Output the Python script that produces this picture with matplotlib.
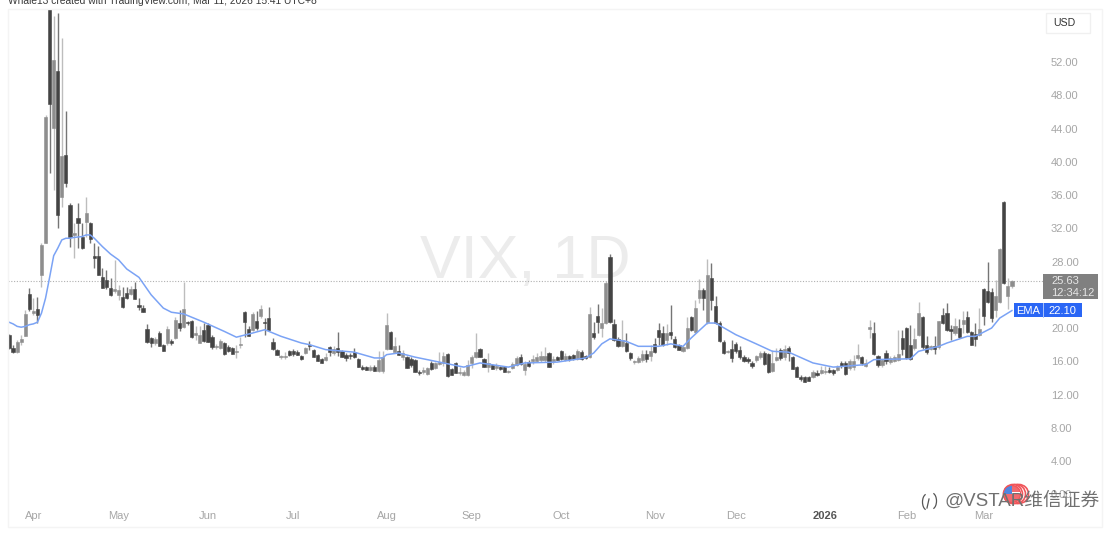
import matplotlib

matplotlib.use("Agg")
import matplotlib.pyplot as plt
from matplotlib.patches import Arc, Circle, Rectangle, Wedge

opens = [
    19.2, 17.6, 17.1, 18.3, 19.0, 24.1, 21.8, 22.3, 26.4, 30.2,
    58.5, 44.1, 50.9, 35.8, 40.8, 34.8, 31.2, 33.2, 31.0, 32.8,
    32.6, 28.7, 28.7, 26.1, 25.8, 24.8, 24.4, 24.0, 23.7, 24.2,
    24.1, 24.7, 22.8, 22.4, 19.9, 18.8, 18.2, 19.4, 18.0, 18.2,
    18.4, 18.8, 20.6, 20.1, 20.7, 20.8, 19.2, 18.2, 19.8, 20.4,
    18.9, 17.7, 17.6, 18.2, 17.7, 17.6, 17.1, 18.0, 21.9, 19.9,
    19.8, 20.8, 21.4, 20.7, 21.2, 18.3, 17.4, 16.5, 16.5, 17.2,
    17.2, 17.1, 16.6, 17.0, 17.9, 17.4, 16.8, 16.3, 16.2, 17.7,
    17.0, 17.6, 17.2, 16.8, 16.8, 17.1, 16.3, 15.3, 15.3, 14.9,
    15.3, 14.8, 14.8, 17.5, 19.5, 17.1, 17.2, 16.5, 16.5, 16.3,
    16.2, 14.7, 14.7, 14.5, 15.8, 15.2, 15.7, 15.8, 16.9, 15.1,
    15.8, 14.6, 14.3, 14.4, 15.8, 16.5, 17.5, 16.3, 15.3, 15.6,
    15.2, 15.3, 15.3, 14.7, 15.2, 15.6, 16.5, 14.9, 15.9, 16.0,
    16.0, 16.2, 16.2, 17.0, 16.0, 16.5, 17.2, 16.2, 16.6, 16.7,
    16.3, 17.1, 16.6, 16.5, 19.4, 21.4, 20.0, 20.6, 28.5, 20.5,
    18.7, 17.8, 18.2, 17.0, 15.9, 15.9, 16.2, 16.9, 16.6, 18.1,
    19.8, 19.4, 18.6, 19.5, 18.7, 18.0, 17.2, 17.6, 21.3, 19.5,
    23.6, 24.6, 20.7, 26.0, 22.7, 20.6, 18.3, 17.1, 17.5, 18.1,
    17.4, 16.5, 16.3, 15.8, 16.2, 16.5, 17.0, 16.9, 14.8, 16.2,
    17.3, 16.5, 17.6, 16.5, 15.3, 14.1, 14.1, 14.1, 14.1, 14.6,
    14.6, 14.7, 15.0, 14.9, 14.9, 15.8, 15.8, 15.2, 15.3, 16.4,
    16.5, 15.4, 19.9, 19.4, 16.6, 15.5, 17.0, 15.9, 16.0, 16.2,
    18.8, 20.0, 18.0, 17.6, 19.2, 21.3, 18.0, 17.5, 17.8, 17.7,
    21.6, 21.8, 19.9, 19.4, 20.0, 20.5, 21.3, 19.5, 19.3, 19.2,
    24.7, 24.5, 24.3, 22.2, 23.1, 35.2, 23.8, 25.0,
]
highs = [
    19.3, 17.9, 18.6, 19.2, 22.2, 24.8, 23.6, 23.7, 30.2, 45.6,
    60.0, 57.5, 57.9, 54.9, 46.1, 35.0, 32.6, 35.0, 32.6, 35.8,
    32.7, 30.2, 29.9, 27.2, 27.0, 26.0, 28.2, 25.2, 24.9, 24.9,
    25.0, 25.5, 23.6, 22.8, 20.5, 18.9, 18.9, 19.6, 18.1, 20.3,
    18.7, 21.3, 22.2, 25.5, 20.8, 21.0, 20.2, 20.2, 20.6, 20.6,
    19.2, 18.1, 18.7, 18.3, 17.9, 17.7, 18.0, 18.9, 22.0, 20.2,
    21.9, 22.0, 22.8, 21.2, 22.5, 18.8, 17.5, 16.8, 17.1, 17.4,
    17.5, 17.3, 16.8, 17.7, 18.4, 17.5, 16.9, 16.4, 17.0, 17.8,
    17.8, 19.5, 17.3, 17.0, 17.0, 17.6, 16.4, 15.5, 15.4, 15.5,
    15.5, 17.2, 17.2, 21.8, 19.6, 18.9, 17.9, 17.4, 16.6, 16.5,
    16.3, 14.9, 15.3, 15.3, 16.0, 15.9, 17.1, 17.1, 17.0, 15.2,
    15.9, 15.3, 14.9, 16.2, 16.8, 19.4, 17.6, 16.4, 17.0, 15.7,
    15.8, 15.4, 15.4, 15.0, 15.9, 16.6, 16.9, 16.0, 16.2, 16.7,
    17.0, 17.2, 17.7, 17.1, 16.6, 16.6, 17.3, 17.0, 16.8, 16.9,
    17.5, 17.3, 16.7, 22.5, 20.7, 22.9, 22.4, 25.6, 28.9, 21.1,
    18.9, 21.0, 19.4, 17.1, 16.2, 16.6, 17.4, 17.4, 18.0, 18.8,
    20.6, 20.2, 20.5, 22.8, 19.0, 18.1, 17.8, 21.3, 21.4, 23.4,
    25.9, 24.8, 28.3, 27.8, 23.8, 20.8, 18.6, 17.4, 18.6, 18.3,
    17.8, 16.7, 16.5, 16.0, 16.8, 17.2, 17.2, 17.0, 17.3, 17.6,
    17.6, 18.0, 17.8, 16.6, 15.4, 14.3, 14.2, 14.2, 15.0, 14.9,
    15.4, 15.4, 15.3, 15.1, 15.5, 16.0, 16.0, 16.3, 16.8, 18.1,
    16.6, 16.3, 21.0, 20.7, 16.7, 16.3, 17.4, 16.6, 16.7, 19.8,
    19.8, 20.1, 20.4, 20.0, 23.1, 21.4, 19.0, 18.0, 19.0, 20.9,
    22.4, 23.0, 20.4, 21.2, 21.1, 22.0, 22.1, 19.7, 20.6, 22.4,
    24.8, 28.0, 24.8, 25.8, 29.6, 35.3, 26.0, 25.8,
]
lows = [
    17.5, 17.0, 17.0, 18.0, 19.0, 22.0, 21.6, 20.6, 24.9, 30.2,
    38.6, 36.6, 32.0, 34.6, 37.0, 29.7, 28.4, 29.6, 29.5, 31.0,
    30.2, 27.2, 26.4, 24.8, 24.7, 23.8, 24.2, 23.4, 22.4, 23.5,
    24.0, 23.5, 22.2, 21.9, 18.2, 17.7, 18.0, 17.8, 17.2, 18.0,
    17.9, 18.7, 19.7, 20.0, 20.4, 18.8, 18.6, 18.2, 18.3, 18.3,
    17.5, 17.5, 17.5, 16.8, 17.1, 16.9, 16.4, 17.6, 18.9, 19.0,
    19.6, 19.8, 21.2, 19.2, 19.8, 17.4, 16.7, 16.3, 16.3, 16.6,
    16.6, 16.7, 16.2, 16.9, 17.3, 16.5, 16.0, 15.8, 16.0, 16.6,
    16.8, 16.6, 16.5, 16.0, 16.3, 16.4, 15.3, 14.9, 14.9, 14.8,
    14.8, 14.7, 14.6, 17.4, 17.5, 17.0, 16.7, 16.2, 15.2, 15.3,
    14.7, 14.4, 14.5, 14.4, 15.0, 15.1, 15.6, 15.4, 14.1, 14.3,
    14.6, 14.3, 14.2, 14.2, 15.2, 16.4, 16.5, 15.3, 14.7, 15.1,
    15.0, 15.0, 14.7, 14.6, 15.1, 15.4, 15.6, 14.3, 15.3, 15.7,
    15.9, 15.9, 15.9, 15.3, 15.7, 16.2, 16.1, 16.0, 16.0, 16.1,
    16.1, 16.2, 16.3, 16.4, 18.7, 19.4, 18.9, 20.5, 20.6, 18.4,
    17.7, 17.7, 17.1, 16.1, 15.7, 15.8, 15.9, 15.9, 16.0, 17.0,
    17.9, 17.8, 18.0, 18.7, 17.6, 17.4, 17.1, 17.5, 19.6, 19.4,
    23.0, 22.2, 20.5, 22.2, 20.5, 18.3, 16.9, 17.0, 15.9, 17.0,
    16.3, 15.9, 15.8, 15.2, 15.9, 16.3, 15.6, 14.6, 14.7, 16.0,
    16.2, 16.2, 16.0, 15.1, 14.1, 13.6, 13.5, 13.6, 14.0, 14.2,
    14.5, 14.5, 14.6, 14.4, 14.8, 15.2, 14.4, 15.0, 14.9, 16.2,
    15.6, 15.3, 18.8, 16.8, 15.3, 15.3, 15.7, 15.7, 15.9, 16.0,
    16.8, 16.3, 16.2, 17.4, 19.1, 17.5, 16.9, 17.4, 16.9, 17.5,
    20.5, 19.7, 18.6, 19.2, 18.8, 19.4, 19.4, 17.9, 17.8, 19.1,
    20.4, 23.0, 20.7, 21.3, 23.0, 25.3, 22.3, 24.8,
]
closes = [
    17.6, 17.1, 18.3, 18.7, 21.7, 22.3, 22.0, 21.6, 30.0, 45.4,
    47.0, 52.3, 33.6, 40.7, 37.5, 31.0, 31.4, 32.6, 29.6, 33.8,
    30.7, 28.4, 26.4, 24.8, 24.9, 24.0, 24.7, 24.6, 22.5, 23.6,
    24.7, 23.5, 22.5, 21.9, 18.3, 18.2, 18.7, 17.8, 17.2, 19.9,
    18.2, 21.0, 20.0, 22.3, 20.6, 18.9, 19.4, 19.2, 18.4, 18.3,
    17.7, 17.8, 18.4, 16.9, 17.2, 16.9, 17.2, 18.1, 20.7, 19.0,
    21.7, 20.0, 22.3, 20.6, 19.8, 17.5, 16.8, 16.6, 16.6, 16.8,
    16.9, 16.8, 16.3, 17.6, 17.8, 16.5, 16.0, 15.8, 16.5, 17.1,
    17.5, 17.1, 16.5, 16.4, 16.6, 16.5, 15.3, 15.1, 14.9, 15.3,
    14.8, 16.2, 16.5, 20.4, 17.5, 17.8, 16.8, 17.0, 15.2, 15.5,
    14.7, 14.6, 14.9, 15.2, 15.1, 15.8, 15.9, 16.6, 14.2, 14.4,
    14.6, 14.7, 14.7, 15.6, 16.5, 17.1, 16.5, 15.3, 15.8, 15.1,
    15.4, 15.1, 14.7, 14.8, 15.7, 16.4, 15.7, 15.7, 15.4, 16.3,
    16.5, 16.6, 16.6, 15.3, 16.3, 16.2, 16.3, 16.6, 16.3, 16.3,
    17.2, 16.3, 16.4, 21.7, 18.9, 20.7, 20.6, 25.4, 20.7, 18.6,
    17.8, 18.6, 17.2, 16.4, 16.0, 16.4, 16.9, 16.3, 17.2, 17.1,
    18.9, 18.0, 19.4, 19.2, 17.7, 17.4, 17.7, 20.0, 19.8, 22.4,
    24.6, 23.6, 26.4, 23.4, 20.6, 18.4, 17.0, 17.2, 16.4, 17.2,
    16.5, 16.0, 16.0, 15.4, 16.6, 17.0, 15.7, 14.7, 15.8, 16.5,
    16.4, 17.5, 17.0, 15.1, 14.1, 13.9, 13.5, 13.6, 14.7, 14.3,
    15.0, 14.8, 14.7, 14.6, 15.3, 15.4, 14.5, 16.0, 16.0, 16.8,
    15.8, 15.8, 20.1, 16.9, 15.5, 16.2, 16.0, 16.4, 16.5, 16.9,
    17.5, 16.4, 16.3, 18.7, 21.8, 17.7, 17.1, 17.8, 17.5, 20.8,
    20.6, 19.8, 19.7, 20.2, 18.9, 21.0, 19.5, 18.0, 18.7, 19.9,
    21.4, 23.1, 21.2, 23.8, 29.5, 25.4, 25.0, 25.63,
]

ema_bars = [
    0, 1, 2, 3, 4, 5, 6, 7, 8, 9, 10, 11, 12, 13, 14, 15, 16, 18, 19, 20,
    21, 23, 25, 27, 29, 32, 35, 38, 40, 43, 48, 53, 56, 60, 63, 67, 72, 74,
    78, 85, 90, 92, 93, 96, 100, 106, 112, 116, 123, 127, 135, 142, 144,
    146, 148, 152, 155, 160, 163, 166, 168, 172, 174, 179, 184, 188, 192,
    198, 203, 211, 213, 222, 224, 229, 231, 236, 238, 242, 244, 247,
]
ema_values = [
    20.7, 20.5, 20.2, 20.1, 20.2, 20.4, 20.5, 20.7, 21.8, 23.6, 26.1, 28.7,
    29.6, 30.6, 30.8, 30.8, 30.9, 31.0, 31.2, 31.2, 30.8, 29.8, 28.9, 28.2,
    27.1, 26.1, 24.0, 22.4, 21.9, 21.7, 20.7, 19.6, 18.9, 19.4, 19.8, 19.0,
    18.2, 18.0, 17.4, 17.1, 16.4, 16.4, 16.8, 17.0, 16.5, 15.9, 15.3, 15.8,
    15.3, 15.8, 15.9, 16.4, 17.0, 18.1, 18.7, 18.4, 17.8, 17.8, 18.1, 17.8,
    18.8, 20.6, 20.6, 19.2, 18.1, 17.2, 17.1, 15.8, 15.3, 15.6, 16.2, 16.3,
    17.2, 17.8, 18.2, 19.0, 19.0, 20.0, 21.2, 22.1,
]

month_bars = [6, 27, 49, 70, 93, 114, 136, 159, 179, 201, 221, 240]
month_labels = ["Apr", "May", "Jun", "Jul", "Aug", "Sep", "Oct", "Nov", "Dec", "2026", "Feb", "Mar"]
# 24.00 sits behind the last price tag in the reference
price_ticks = [0, 4, 8, 12, 16, 20, 28, 32, 36, 40, 44, 48, 52]
last_price = 25.63

W, H = 1111, 537
UP_BODY, UP_WICK = "#8e8e8e", "#bdbdbd"
DOWN_BODY, DOWN_WICK = "#444444", "#757575"
BLUE = "#2a66f5"
FRAME = "#f4f4f4"
TICK_GREY = "#a6a6a6"

plt.rcParams["font.family"] = ["Liberation Sans", "Noto Sans CJK SC", "DejaVu Sans"]

fig = plt.figure(figsize=(W / 100, H / 100), dpi=100, facecolor="white")

# chart pane, pixel box 8..1044 x 9..508
ax = fig.add_axes([8 / W, 1 - 508 / H, 1036 / W, 499 / H])
ax.set_xlim(-0.25, 254.9)
ax.set_ylim(-1.65, 58.38)
for name in ax.spines:
    ax.spines[name].set_visible(False)

bars = range(len(opens))
wick_colors = [UP_WICK if c >= o else DOWN_WICK for o, c in zip(opens, closes)]
body_colors = [UP_BODY if c >= o else DOWN_BODY for o, c in zip(opens, closes)]
ax.vlines(bars, lows, highs, colors=wick_colors, linewidth=1, zorder=2)
ax.bar(
    bars,
    [abs(c - o) for o, c in zip(opens, closes)],
    bottom=[min(o, c) for o, c in zip(opens, closes)],
    width=0.78,
    color=body_colors,
    edgecolor=body_colors,
    linewidth=0.4,
    zorder=3,
)
ax.plot(ema_bars, ema_values, color="#7ba3f5", linewidth=1.1, zorder=4)
ax.axhline(last_price, color="#b0b0b0", linestyle=(0, (1, 1.5)), linewidth=0.8, zorder=1)

ax.yaxis.tick_right()
ax.set_yticks(price_ticks)
ax.set_yticklabels([f"{v:.2f}" for v in price_ticks])
ax.tick_params(axis="y", length=0, pad=5, labelsize=8, labelcolor=TICK_GREY)
ax.set_xticks(month_bars)
ax.set_xticklabels(month_labels)
ax.tick_params(axis="x", length=0, pad=2, labelsize=8, labelcolor=TICK_GREY)
for lab in ax.get_xticklabels():
    if lab.get_text() == "2026":
        lab.set_fontweight("bold")
        lab.set_color("#555555")

# overlay in pixel coordinates for tags, frame and the watermark
ov = fig.add_axes([0, 0, 1, 1], facecolor="none")
ov.set_xlim(0, W)
ov.set_ylim(H, 0)
ov.axis("off")

# big symbol text goes behind the candles
wm = fig.add_axes([0, 0, 1, 1], facecolor="none", zorder=-1)
wm.set_xlim(0, W)
wm.set_ylim(H, 0)
wm.axis("off")
wm.text(525, 262, "VIX, 1D", ha="center", va="center", fontsize=44, color="#ececec")
ax.patch.set_visible(False)

ov.add_patch(Rectangle((8, 9), 1094, 518, fill=False, edgecolor=FRAME, linewidth=1))
ov.text(8, 1, "Whale13 created with TradingView.com, Mar 11, 2026 15:41 UTC+8",
        fontsize=7.4, color="#3a3a3a", va="center", ha="left")

ov.add_patch(Rectangle((1046, 13), 44, 20, facecolor="white", edgecolor="#f0f0f0", linewidth=1))
ov.text(1064, 22.5, "USD", fontsize=7.6, color="#333333", ha="center", va="center")

ov.add_patch(Rectangle((1043, 274), 55, 25, facecolor="#808080", edgecolor="none"))
ov.text(1051, 281.5, f"{last_price:.2f}", fontsize=8, color="#e6e6e6", ha="left", va="center")
ov.text(1051, 293, "12:34:12", fontsize=8, color="#e6e6e6", ha="left", va="center")

ov.add_patch(Rectangle((1014, 303), 68, 14, facecolor=BLUE, edgecolor="none"))
ov.plot([1043, 1043], [303, 317], color="#a9c2fb", linewidth=0.7)
ov.text(1028.5, 310.5, "EMA", fontsize=8, color="white", ha="center", va="center")
ov.text(1062, 310.5, "22.10", fontsize=8, color="white", ha="center", va="center")

# flag badge under the watermark text
for cx in (1019, 1016, 1013):
    ov.add_patch(Circle((cx, 494), 9.5, facecolor="white", edgecolor="#f0555a", linewidth=1.2))
ov.add_patch(Circle((1012, 494), 8.5, facecolor="#f26a6e", edgecolor="#f0555a", linewidth=1))
ov.add_patch(Rectangle((1004.5, 492), 15, 2, facecolor="white", edgecolor="none"))
ov.add_patch(Wedge((1012, 494), 8.2, 180, 270, facecolor="#4f86e0", edgecolor="none"))

ov.add_patch(Arc((927, 502), 9, 16, theta1=100, theta2=260, color="#555555", linewidth=0.9))
ov.add_patch(Arc((932, 501), 9, 16, theta1=-80, theta2=80, color="#555555", linewidth=0.9))
ov.plot([929, 927], [499, 508], color="#555555", linewidth=0.9)

ov.text(945, 500.5, "@VSTAR维信证券", fontsize=13.5, color="#707070", ha="left", va="center")

fig.savefig("out.png", dpi=100)
plt.close(fig)
